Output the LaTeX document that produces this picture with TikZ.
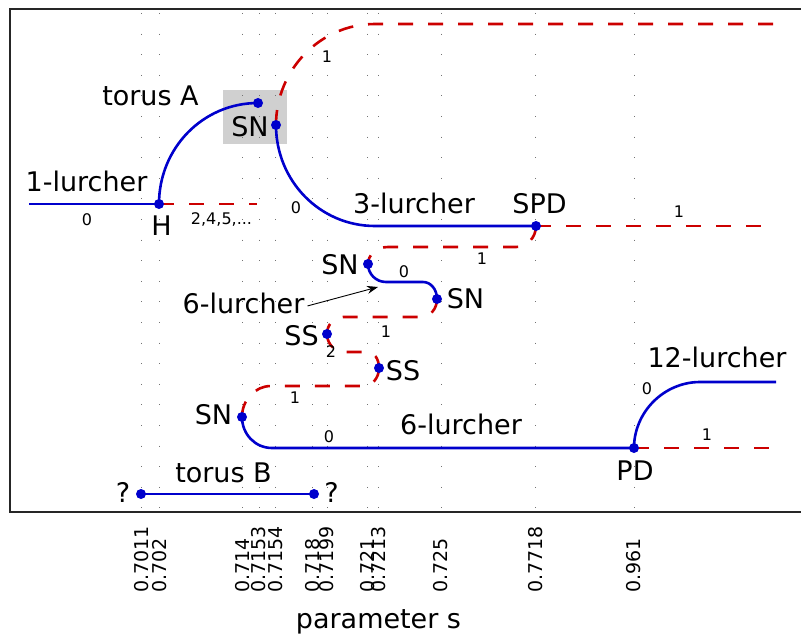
\documentclass[tikz,border=0pt]{standalone}
\usepackage{fontspec}
\setmainfont{DejaVu Sans}
\usetikzlibrary{arrows.meta}
\pgfdeclarelayer{bg}
\pgfsetlayers{bg,main}
\definecolor{cblue}{RGB}{0,0,204}
\definecolor{cred}{RGB}{204,0,0}
\definecolor{hlgray}{RGB}{208,208,208}
\tikzset{
  bl/.style={cblue, line width=2.6pt},
  rd/.style={cred, line width=2.6pt, dash pattern=on 15pt off 15pt},
  dotpt/.style={circle, fill=cblue, inner sep=0pt, minimum size=10pt},
  big/.style={font=\fontsize{27}{32}\selectfont, inner sep=0pt, anchor=base},
  sm/.style={font=\fontsize{16}{19}\selectfont, inner sep=0pt, anchor=base},
  ticklab/.style={font=\fontsize{19}{22}\selectfont, inner sep=0pt, rotate=90, anchor=west},
  griddots/.style={black!55, line width=1pt, dash pattern=on 1pt off 19.6pt},
  frame/.style={black!85, line width=1.4pt},
}
\begin{document}
\begin{tikzpicture}[x=1pt,y=-1pt]
\useasboundingbox (0,0) rectangle (801,634);

% dots (named points)
\node[dotpt] (H) at (159,204) {};
\node[dotpt] (tA) at (258,103) {};
\node[dotpt] (SNa) at (276,125) {};
\node[dotpt] (SPD) at (536,226) {};
\node[dotpt] (SNb) at (368,264) {};
\node[dotpt] (SNc) at (437,299) {};
\node[dotpt] (SSa) at (327,334) {};
\node[dotpt] (SSb) at (379,368) {};
\node[dotpt] (SNd) at (242,417) {};
\node[dotpt] (PD) at (634,448) {};
\node[dotpt] (tB1) at (141,494) {};
\node[dotpt] (tB2) at (314,494) {};

% corner coordinates
\coordinate (p1) at (29,204);
\coordinate (p2) at (257,204);
\coordinate (r1) at (375,24);
\coordinate (r1e) at (783,24);
\coordinate (b1) at (375,226);
\coordinate (s1e) at (770,226);
\coordinate (c1) at (516,247);
\coordinate (c2) at (388,247);
\coordinate (c3) at (386,282);
\coordinate (c4) at (423,282);
\coordinate (c5) at (421,317);
\coordinate (c6) at (343,317);
\coordinate (c7) at (344,352);
\coordinate (c8) at (368,352);
\coordinate (c9) at (364,386);
\coordinate (c10) at (271,386);
\coordinate (c11) at (272,448);
\coordinate (c12) at (700,382);
\coordinate (c13) at (776,382);
\coordinate (c14) at (778,448);
\coordinate (atip) at (378,287);

\begin{pgfonlayer}{bg}
  \fill[hlgray] (223,90) rectangle (287,144);
  \foreach \x in {141.7,159.3,242.3,259,275.7,312.3,327,367.7,378.3,441,535.7,634}
    \draw[griddots] (\x,13) -- (\x,512);
  \draw[frame] (803,9) -- (10,9) -- (10,512) -- (803,512);

  \draw[bl] (p1) -- (H.center);
  \draw[rd] (H.center) -- (p2);
  \draw[bl] (H.center) .. controls +(0,-56) and +(-55,0) .. (tA.center);
  \draw[rd] (SNa.center) .. controls +(0,-55) and +(-55,0) .. (r1) -- (r1e);
  \draw[bl] (SNa.center) .. controls +(0,56) and +(-55,0) .. (b1) -- (SPD.center);
  \draw[rd] (SPD.center) -- (s1e);
  \draw[rd] (SPD.center) .. controls +(0,11.5) and +(11,0) .. (c1) -- (c2) .. controls +(-11,0) and +(0,-9.4) .. (SNb.center);
  \draw[bl] (SNb.center) .. controls +(0,10) and +(-10,0) .. (c3) -- (c4) .. controls +(8,0) and +(0,-9.4) .. (SNc.center);
  \draw[rd] (SNc.center) .. controls +(0,10) and +(9,0) .. (c5) -- (c6) .. controls +(-9,0) and +(0,-9.4) .. (SSa.center);
  \draw[rd] (SSa.center) .. controls +(0,10) and +(-9,0) .. (c7) -- (c8) .. controls +(6,0) and +(0,-9) .. (SSb.center);
  \draw[rd] (SSb.center) .. controls +(0,10) and +(8,0) .. (c9) -- (c10) .. controls +(-16,0) and +(0,-17) .. (SNd.center);
  \draw[bl] (SNd.center) .. controls +(0,17) and +(-17,0) .. (c11) -- (PD.center);
  \draw[bl] (PD.center) .. controls +(0,-36) and +(-36,0) .. (c12) -- (c13);
  \draw[rd] (PD.center) -- (c14);
  \draw[bl] (tB1.center) -- (tB2.center);
\end{pgfonlayer}

% labels
\node[big] (ltA) at (150.5,106) {torus A};
\node[big] (lSNa) at (250,136) {SN};
\node[big] (l1l) at (86.5,191) {1-lurcher};
\node[big] (lH) at (161.5,235) {H};
\node[sm] (n1) at (87,225) {0};
\node[sm] (n2) at (221.5,224) {2,4,5,...};
\node[sm] (n3) at (296,213) {0};
\node[sm] (n4) at (327,63) {1};
\node[big] (l3l) at (414,213) {3-lurcher};
\node[big] (lSPD) at (539.5,213) {SPD};
\node[sm] (n5) at (679,217) {1};
\node[sm] (n6) at (482,264) {1};
\node[big] (lSNb) at (340,274) {SN};
\node[sm] (n7) at (404,277) {0};
\node[big] (lSNc) at (465.5,308) {SN};
\node[big] (l6a) at (243.5,313) {6-lurcher};
\node[big] (lSSa) at (301.5,345) {SS};
\node[sm] (n8) at (386,337) {1};
\node[sm] (n9) at (331,357) {2};
\node[big] (lSSb) at (403,380) {SS};
\node[sm] (n10) at (295,403) {1};
\node[big] (lSNd) at (213.5,424) {SN};
\node[sm] (n11) at (329,442) {0};
\node[big] (l6b) at (461,434) {6-lurcher};
\node[big] (lPD) at (635,480) {PD};
\node[sm] (n12) at (647,394) {0};
\node[big] (l12) at (717,367) {12-lurcher};
\node[sm] (n13) at (707,440) {1};
\node[big] (ltB) at (223.5,482) {torus B};
\node[big] (lq1) at (123,502) {?};
\node[big] (lq2) at (331.5,502) {?};
\node[big] (lpar) at (378.5,628) {parameter s};

\draw[-{Stealth[length=11pt,width=8pt]}, line width=0.9pt] ([xshift=3pt,yshift=-3pt]l6a.east) -- (atip);

% tick labels
\foreach \x/\t [count=\i] in {141.7/0.7011,159.3/0.702,242.3/0.714,259/0.7153,275.7/0.7154,312.3/0.718,327/0.7199,367.7/0.721,378.3/0.7213,441/0.725,535.7/0.7718,634/0.961}
  \node[ticklab] (tk\i) at (\x,593) {\t};
\end{tikzpicture}
\end{document}
